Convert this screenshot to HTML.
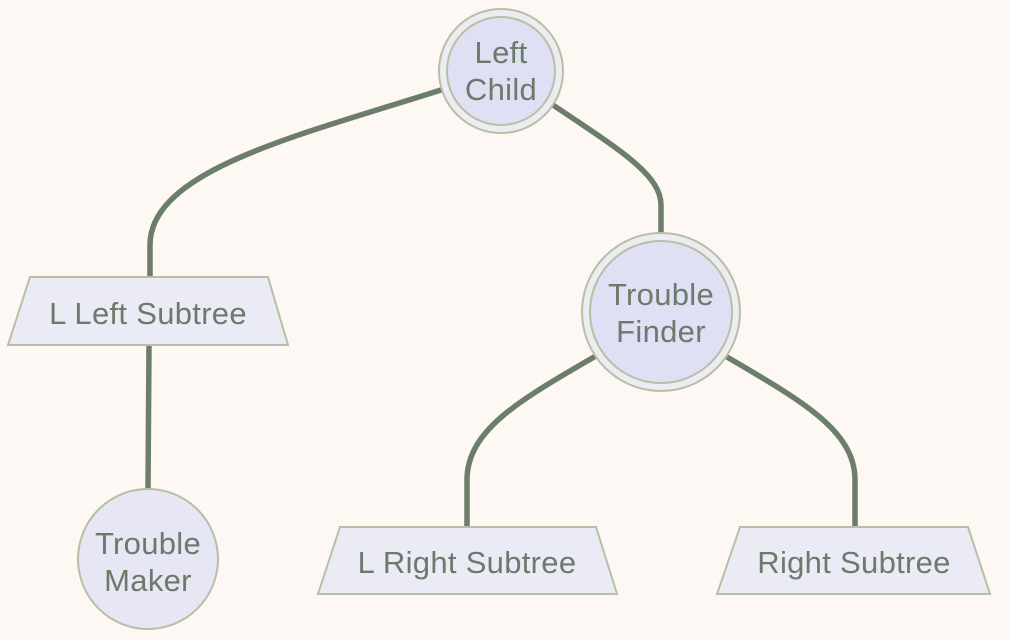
<!DOCTYPE html>
<html><head><meta charset="utf-8"><style>
html,body{margin:0;padding:0;background:#fdf8f3;}
svg{display:block;}
text{font-family:"Liberation Sans",sans-serif;font-size:31px;fill:#6b7a6b;text-anchor:middle;letter-spacing:0.3px;}
</style></head><body>
<svg width="1010" height="640" viewBox="0 0 1010 640">
<rect width="1010" height="640" fill="#fdf8f3"/>
<g fill="none" stroke="#6b7d6b" stroke-width="5.5" stroke-linecap="round">
<path d="M441,90 C300,135 150,170 150,245 L150,277"/>
<path d="M553,105 C620,150 661,175 661,205 L661,233"/>
<path d="M149,345 L148,490"/>
<path d="M594,357 C520,400 467,430 467,480 L467,527"/>
<path d="M727,357 C800,400 855,430 855,480 L855,527"/>
</g>
<g stroke="#b8bfa6" stroke-width="2">
<circle cx="501" cy="71" r="62" fill="#ececf1"/>
<circle cx="501" cy="71" r="54" fill="#e0e0f5"/>
<circle cx="661" cy="312" r="79" fill="#ececf1"/>
<circle cx="661" cy="312" r="71" fill="#e0e0f5"/>
<circle cx="148" cy="559" r="70" fill="#e6e6f4"/>
<polygon points="30,277 268,277 288,345 8,345" fill="#ebebf6"/>
<polygon points="340,527 596,527 617,594 318,594" fill="#ebebf6"/>
<polygon points="740,527 968,527 990,594 717,594" fill="#ebebf6"/>
</g>
<text x="501" y="63">Left</text>
<text x="501" y="100">Child</text>
<text x="661" y="305">Trouble</text>
<text x="661" y="342">Finder</text>
<text x="148" y="554">Trouble</text>
<text x="148" y="591">Maker</text>
<text x="148" y="324">L Left Subtree</text>
<text x="467" y="573">L Right Subtree</text>
<text x="854" y="573">Right Subtree</text>
</svg>
</body></html>
